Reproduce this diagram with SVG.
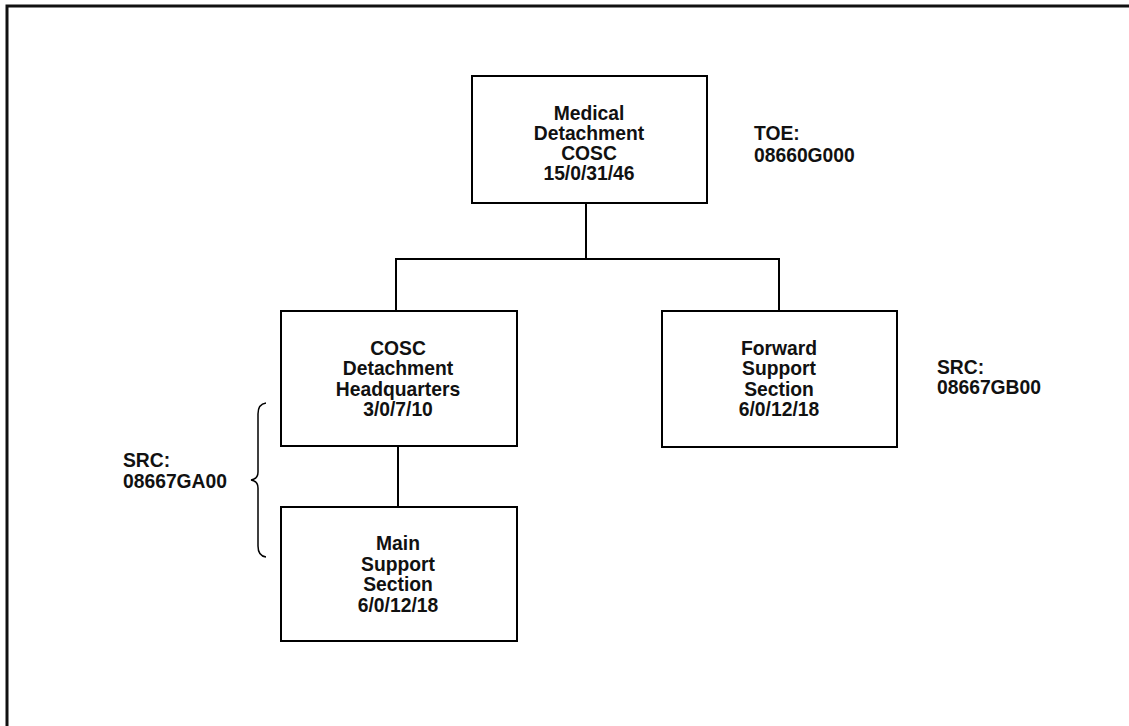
<svg xmlns="http://www.w3.org/2000/svg" width="1129" height="726" viewBox="0 0 1129 726">
<style>
.box{fill:#fff;stroke:#000;stroke-width:2}
.t{font-family:"Liberation Sans",Arial,sans-serif;font-weight:bold;font-size:19.3px;fill:#111}
.c{text-anchor:middle}
.ln{fill:none;stroke:#000;stroke-width:2}
</style>
<rect x="0" y="0" width="1129" height="726" fill="#fff"/>
<path d="M7 1140 V6 H1140" fill="none" stroke="#111" stroke-width="3"/>
<g id="connectors">
<path class="ln" d="M586 203 V259"/>
<path class="ln" d="M396 311 V259 H779 V311"/>
<path class="ln" d="M398 446 V507"/>
</g>
<g id="node-top">
<rect class="box" x="472" y="76" width="235" height="127"/>
<text class="t c"><tspan x="589" y="120">Medical</tspan><tspan x="589" y="140">Detachment</tspan><tspan x="589" y="160">COSC</tspan><tspan x="589" y="180">15/0/31/46</tspan></text>
</g>
<g id="node-hq">
<rect class="box" x="281" y="311" width="236" height="135"/>
<text class="t c"><tspan x="398" y="355">COSC</tspan><tspan x="398" y="375">Detachment</tspan><tspan x="398" y="396">Headquarters</tspan><tspan x="398" y="416">3/0/7/10</tspan></text>
</g>
<g id="node-fwd">
<rect class="box" x="662" y="311" width="235" height="136"/>
<text class="t c"><tspan x="779" y="355">Forward</tspan><tspan x="779" y="375">Support</tspan><tspan x="779" y="396">Section</tspan><tspan x="779" y="416">6/0/12/18</tspan></text>
</g>
<g id="node-main">
<rect class="box" x="281" y="507" width="236" height="134"/>
<text class="t c"><tspan x="398" y="550">Main</tspan><tspan x="398" y="571">Support</tspan><tspan x="398" y="591">Section</tspan><tspan x="398" y="612">6/0/12/18</tspan></text>
</g>
<g id="label-toe">
<text class="t"><tspan x="754" y="140">TOE:</tspan><tspan x="754" y="162">08660G000</tspan></text>
</g>
<g id="label-src-b">
<text class="t"><tspan x="937" y="374">SRC:</tspan><tspan x="937" y="394">08667GB00</tspan></text>
</g>
<g id="label-src-a">
<text class="t"><tspan x="123" y="467">SRC:</tspan><tspan x="123" y="488">08667GA00</tspan></text>
<path d="M266 403 Q258 404 258 414 L258 472 Q258 479 251 480 Q258 481 258 488 L258 546 Q258 556 266 557" fill="none" stroke="#000" stroke-width="1.5"/>
</g>
</svg>
